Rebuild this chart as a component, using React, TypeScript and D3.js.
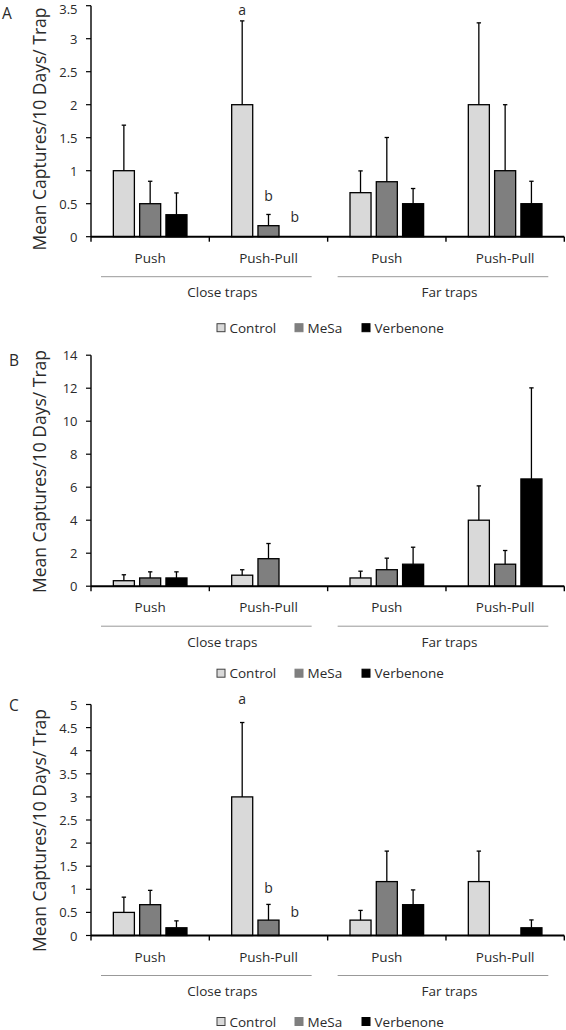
import React from "react";
import * as d3 from "d3";

// ---------- data ----------
const groups = ["Push", "Push-Pull", "Push", "Push-Pull"];
const superGroups = ["Close traps", "Far traps"];
const series = ["Control", "MeSa", "Verbenone"];
const colors = ["#d9d9d9", "#7f7f7f", "#000000"];
const legendStroke = ["#404040", "#7f7f7f", "#000000"];
const panelNames = ["A", "B", "C"];

// Panel A: means & standard errors [group][series]
const meansA = [[1, 0.5, 0.333], [2, 0.167, 0], [0.667, 0.833, 0.5], [2, 1, 0.5]];
const errA = [[0.69, 0.34, 0.33], [1.27, 0.17, 0], [0.33, 0.67, 0.23], [1.24, 1.0, 0.34]];
// Panel B
const meansB = [[0.333, 0.5, 0.5], [0.667, 1.667, 0], [0.5, 1.0, 1.333], [4.0, 1.333, 6.5]];
const errB = [[0.36, 0.37, 0.37], [0.33, 0.92, 0], [0.41, 0.7, 1.03], [2.08, 0.83, 5.52]];
// Panel C
const meansC = [[0.5, 0.667, 0.167], [3.0, 0.333, 0], [0.333, 1.167, 0.667], [1.167, 0, 0.167]];
const errC = [[0.33, 0.31, 0.15], [1.61, 0.34, 0], [0.21, 0.66, 0.32], [0.66, 0, 0.17]];

const yMaxes = [3.5, 14, 5];
const yStepsTicks = [0.5, 2, 0.5];

// significance letters: group index, series index, text, value (data units) of letter centre
const lettersA = [
  { g: 1, s: 0, t: "a", v: 3.44 },
  { g: 1, s: 1, t: "b", v: 0.62 },
  { g: 1, s: 2, t: "b", v: 0.3 },
];
const lettersB: { g: number; s: number; t: string; v: number }[] = [];
const lettersC = [
  { g: 1, s: 0, t: "a", v: 5.13 },
  { g: 1, s: 1, t: "b", v: 1.03 },
  { g: 1, s: 2, t: "b", v: 0.51 },
];

const panelsData = [
  { means: meansA, errs: errA, letters: lettersA },
  { means: meansB, errs: errB, letters: lettersB },
  { means: meansC, errs: errC, letters: lettersC },
];

// ---------- layout ----------
const W = 566;
const H = 1030;
const axisX0 = 91;
const axisX1 = 564.3;
const plotH = 231;
const zeroYs = [236.7, 586.2, 935.5];
const legendOffsets = [91, 87, 86];
const titleCenters = [129, 471.5, 830.5];
const letterPos = [
  { x: 2, y: 13 },
  { x: 9, y: 360 },
  { x: 9, y: 705 },
];
const FONT = "'Open Sans', 'Noto Sans', sans-serif";
const TXT = "#2a2a2a";
const LBL = 13.5;

function Panel({ idx }: { idx: number }) {
  const { means, errs, letters } = panelsData[idx];
  const zeroY = zeroYs[idx];
  const y = d3.scaleLinear().domain([0, yMaxes[idx]]).range([zeroY, zeroY - plotH]);
  const x0 = d3.scaleBand<number>().domain(d3.range(groups.length)).range([axisX0, axisX1]).padding(0);
  const x1 = d3
    .scaleBand<number>()
    .domain(d3.range(series.length))
    .range([0, x0.bandwidth()])
    .paddingInner(0.2)
    .paddingOuter(0.85);
  const ticks = d3.range(0, yMaxes[idx] + 1e-9, yStepsTicks[idx]);
  const bw = x1.bandwidth();
  const fmt = d3.format("~g");

  const superStart = [x0(0)!, x0(2)!];
  const superEnd = [x0(1)! + x0.bandwidth(), x0(3)! + x0.bandwidth()];
  const superLabelShift = [13, 3.5];

  const legendXs = [217, 295, 362];
  const legendY = zeroY + legendOffsets[idx];

  return (
    <g>
      {/* panel letter */}
      <text x={letterPos[idx].x} y={letterPos[idx].y} dominantBaseline="central" fontSize={15.5} fill={TXT} fontFamily={FONT}>
        {panelNames[idx]}
      </text>
      {/* y title */}
      <text
        transform={`translate(39,${titleCenters[idx]}) rotate(-90)`}
        textAnchor="middle"
        dominantBaseline="central"
        fontSize={17.5}
        fill={TXT}
        fontFamily={FONT}
      >
        Mean Captures/10 Days/ Trap
      </text>
      {/* y ticks */}
      {ticks.map((t) => (
        <g key={t}>
          <line x1={axisX0 - 5} x2={axisX0} y1={y(t)} y2={y(t)} stroke="#000" strokeWidth={1.2} />
          <text
            x={77.5}
            y={Math.max(y(t), 9)}
            textAnchor="end"
            dominantBaseline="central"
            fontSize={13}
            fill={TXT}
            fontFamily={FONT}
          >
            {fmt(t)}
          </text>
        </g>
      ))}
      {/* bars */}
      {means.map((row, g) =>
        row.map((m, s) => {
          if (m <= 0) return null;
          const bx = x0(g)! + x1(s)!;
          return (
            <rect
              key={`b${g}-${s}`}
              x={bx}
              y={y(m)}
              width={bw}
              height={zeroY - y(m)}
              fill={colors[s]}
              stroke="#000"
              strokeWidth={1.3}
            />
          );
        })
      )}
      {/* error bars */}
      {means.map((row, g) =>
        row.map((m, s) => {
          const e = errs[g][s];
          if (m <= 0 || e <= 0) return null;
          const cx = x0(g)! + x1(s)! + bw / 2;
          return (
            <g key={`e${g}-${s}`} stroke="#000" strokeWidth={1.3}>
              <line x1={cx} x2={cx} y1={y(m)} y2={y(m + e)} />
              <line x1={cx - 2.2} x2={cx + 2.2} y1={y(m + e)} y2={y(m + e)} />
            </g>
          );
        })
      )}
      {/* letters */}
      {letters.map((l, i) => (
        <text
          key={`l${i}`}
          x={x0(l.g)! + x1(l.s)! + bw / 2}
          y={y(l.v)}
          textAnchor="middle"
          dominantBaseline="central"
          fontSize={14}
          fill={TXT}
          fontFamily={FONT}
        >
          {l.t}
        </text>
      ))}
      {/* axes */}
      <line x1={axisX0} x2={axisX0} y1={zeroY - plotH} y2={zeroY} stroke="#000" strokeWidth={1.4} />
      <line x1={axisX0} x2={axisX1} y1={zeroY} y2={zeroY} stroke="#000" strokeWidth={2} />
      {d3.range(groups.length + 1).map((i) => {
        const xx = i < groups.length ? x0(i)! : axisX1;
        return <line key={`xt${i}`} x1={xx} x2={xx} y1={zeroY} y2={zeroY + 5} stroke="#000" strokeWidth={1.4} />;
      })}
      {/* group labels */}
      {groups.map((gname, g) => (
        <text
          key={`gl${g}`}
          x={x0(g)! + x0.bandwidth() / 2}
          y={zeroY + 21}
          textAnchor="middle"
          dominantBaseline="central"
          fontSize={LBL}
          fill={TXT}
          fontFamily={FONT}
        >
          {gname}
        </text>
      ))}
      {/* super group lines & labels */}
      {superGroups.map((sg, i) => (
        <g key={`sg${i}`}>
          <line
            x1={superStart[i] + 10}
            x2={superEnd[i] - 16}
            y1={zeroY + 40}
            y2={zeroY + 40}
            stroke="#999"
            strokeWidth={1}
          />
          <text
            x={(superStart[i] + superEnd[i]) / 2 + superLabelShift[i]}
            y={zeroY + 55.5}
            textAnchor="middle"
            dominantBaseline="central"
            fontSize={LBL}
            fill={TXT}
            fontFamily={FONT}
          >
            {sg}
          </text>
        </g>
      ))}
      {/* legend */}
      {series.map((sname, s) => (
        <g key={`lg${s}`}>
          <rect
            x={legendXs[s]}
            y={legendY - 4}
            width={8}
            height={8}
            fill={colors[s]}
            stroke={legendStroke[s]}
            strokeWidth={1}
          />
          <text x={legendXs[s] + 12.5} y={legendY} dominantBaseline="central" fontSize={LBL} fill={TXT} fontFamily={FONT}>
            {sname}
          </text>
        </g>
      ))}
    </g>
  );
}

export default function App() {
  return (
    <svg
      width={W}
      height={H}
      viewBox={`0 0 ${W} ${H}`}
      style={{ position: "absolute", left: 0, top: 0, background: "#fff" }}
    >
      <rect x={0} y={0} width={W} height={H} fill="#fff" />
      {panelsData.map((_, i) => (
        <Panel key={i} idx={i} />
      ))}
    </svg>
  );
}
